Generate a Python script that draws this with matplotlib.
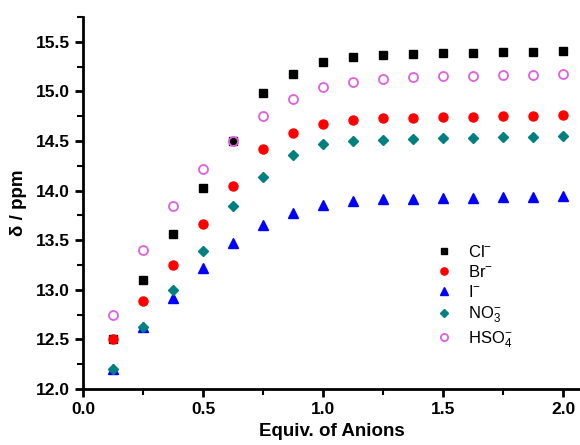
import matplotlib
matplotlib.use("Agg")
import matplotlib.pyplot as plt
from matplotlib.ticker import MultipleLocator, FormatStrFormatter

plt.rcParams['font.family'] = ['Liberation Sans', 'DejaVu Sans']
plt.rcParams['mathtext.default'] = 'regular'

equiv = [0.125, 0.25, 0.375, 0.5, 0.625, 0.75, 0.875, 1.0,
         1.125, 1.25, 1.375, 1.5, 1.625, 1.75, 1.875, 2.0]

cl = [12.50, 13.10, 13.56, 14.03, 14.50, 14.98, 15.17, 15.30,
      15.35, 15.37, 15.38, 15.39, 15.39, 15.40, 15.40, 15.41]
br = [12.50, 12.89, 13.25, 13.66, 14.05, 14.42, 14.58, 14.67,
      14.71, 14.73, 14.73, 14.74, 14.74, 14.75, 14.75, 14.76]
iod = [12.20, 12.62, 12.92, 13.22, 13.47, 13.65, 13.77, 13.85,
       13.89, 13.91, 13.91, 13.92, 13.92, 13.93, 13.93, 13.94]
no3 = [12.20, 12.62, 13.00, 13.39, 13.84, 14.14, 14.36, 14.47,
       14.50, 14.51, 14.52, 14.53, 14.53, 14.54, 14.54, 14.55]
hso4 = [12.75, 13.40, 13.84, 14.22, 14.50, 14.75, 14.92, 15.04,
        15.09, 15.12, 15.14, 15.15, 15.15, 15.16, 15.16, 15.17]

fig = plt.figure(figsize=(5.8, 4.45), dpi=100)
ax = fig.add_axes([0.143, 0.126, 0.857, 0.836])

ax.plot(equiv, cl, 's', color='black', ms=6, ls='none', label='Cl$^{-}$')
ax.plot(equiv, iod, '^', color='#0000ff', ms=6.5, ls='none', label='I$^{-}$')
ax.plot(equiv, no3, 'D', color='#008080', ms=5.5, ls='none', label='NO$_3^{-}$')
ax.plot(equiv, br, 'o', color='#ff0000', ms=6.5, ls='none', label='Br$^{-}$')
ax.plot(equiv, hso4, 'o', mfc='none', mec='#e060e0', mew=1.3, ms=6.5, ls='none', label='HSO$_4^{-}$')

ax.set_xlim(0, 2.07)
ax.set_ylim(12.0, 15.75)
ax.xaxis.set_major_locator(MultipleLocator(0.5))
ax.xaxis.set_minor_locator(MultipleLocator(0.25))
ax.yaxis.set_major_locator(MultipleLocator(0.5))
ax.yaxis.set_minor_locator(MultipleLocator(0.25))
ax.xaxis.set_major_formatter(FormatStrFormatter('%.1f'))
ax.yaxis.set_major_formatter(FormatStrFormatter('%.1f'))

for side in ['top', 'right']:
    ax.spines[side].set_visible(False)
for side in ['left', 'bottom']:
    ax.spines[side].set_linewidth(2)

ax.tick_params(which='major', direction='out', length=6, width=2, labelsize=12.5)
ax.tick_params(which='minor', direction='out', length=4, width=1.5)
for lab in ax.get_xticklabels() + ax.get_yticklabels():
    lab.set_fontweight('bold')

ax.set_xlabel('Equiv. of Anions', fontsize=13.5, fontweight='bold', labelpad=4)
ax.set_ylabel('δ / ppm', fontsize=13.5, fontweight='bold', labelpad=6)

handles, labels = ax.get_legend_handles_labels()
order = [0, 3, 1, 2, 4]
ax.legend([handles[i] for i in order], [labels[i] for i in order],
          loc='upper left', bbox_to_anchor=(0.68, 0.43), frameon=False,
          fontsize=12, handletextpad=0.9, labelspacing=0.25, handlelength=1.0,
          markerscale=0.8)

fig.savefig('out.png', dpi=100)
